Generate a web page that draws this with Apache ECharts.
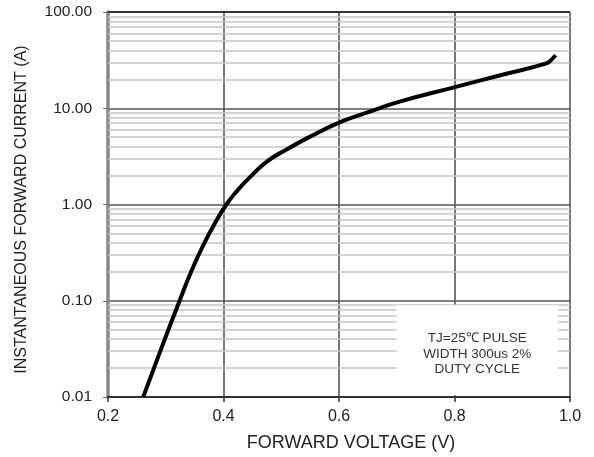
<!DOCTYPE html>
<html>
<head>
<meta charset="utf-8">
<script src="https://cdn.jsdelivr.net/npm/echarts@6/dist/echarts.min.js"></script>
<style>
html,body{margin:0;padding:0;background:#fff;}
#chart{width:594px;height:457px;}
</style>
</head>
<body>
<div id="chart"></div>
<script>
// Forward voltage (V) and instantaneous forward current (A)
var voltage = [0.261, 0.292, 0.324, 0.345, 0.365, 0.385, 0.405, 0.425, 0.441, 0.475, 0.510, 0.550, 0.600, 0.648, 0.705, 0.799, 0.878, 0.959, 0.968, 0.975];
var current = [0.010, 0.0316, 0.100, 0.207, 0.378, 0.637, 1.00, 1.42, 1.80, 2.79, 3.75, 5.07, 7.10, 9.00, 11.7, 16.5, 21.9, 29.2, 32.0, 35.6];
var xTicks = [0.2, 0.4, 0.6, 0.8, 1.0];
var yTicks = [0.01, 0.1, 1, 10, 100];
var minorMultipliers = [2, 3, 4, 5, 6, 7, 8, 9];
var noteText = ['TJ=25\u2103 PULSE', 'WIDTH 300us 2%', 'DUTY CYCLE'];
var noteBox = [[0.70, 0.0104], [0.979, 0.09]];

var minorLines = [];
for (var d = 0; d < yTicks.length - 1; d++) {
  for (var m = 0; m < minorMultipliers.length; m++) {
    minorLines.push({ yAxis: yTicks[d] * minorMultipliers[m] });
  }
}
var curveData = voltage.map(function (v, i) { return [v, current[i]]; });

var chart = echarts.init(document.getElementById('chart'));
var font = '"Liberation Sans", Arial, sans-serif';
chart.setOption({
  animation: false,
  backgroundColor: '#fff',
  grid: { left: 108, right: 24, top: 12, bottom: 59 },
  xAxis: {
    type: 'value', min: 0.2, max: 1.0, interval: 0.2,
    name: 'FORWARD VOLTAGE (V)', nameLocation: 'middle', nameGap: 37,
    nameTextStyle: { fontFamily: font, fontSize: 18, color: '#222', padding: [0, 0, 0, 24] },
    axisLine: { show: true, lineStyle: { color: '#333', width: 2 } },
    axisTick: { show: true, inside: false, length: 5, lineStyle: { color: '#333', width: 1.5 } },
    axisLabel: { fontFamily: font, fontSize: 16, color: '#222', margin: 12,
      formatter: function (v) { return v.toFixed(1); } },
    splitLine: { show: true, lineStyle: { color: '#555', width: 1.6 } }
  },
  yAxis: {
    type: 'log', logBase: 10, min: 0.01, max: 100,
    name: 'INSTANTANEOUS FORWARD CURRENT (A)', nameLocation: 'middle', nameGap: 78,
    nameTextStyle: { fontFamily: font, fontSize: 16, color: '#222', padding: [0, 10, 0, 0] },
    axisLine: { show: true, lineStyle: { color: '#888', width: 3.5 } },
    axisTick: { show: true, inside: false, length: 5, lineStyle: { color: '#666', width: 1 } },
    axisLabel: { fontFamily: font, fontSize: 15.5, color: '#222', margin: 16,
      formatter: function (v) { return v.toFixed(2); } },
    splitLine: { show: true, lineStyle: { color: '#555', width: 1.6 } }
  },
  series: [
    {
      type: 'line', data: [], z: 1, silent: true,
      markLine: {
        silent: true, symbol: 'none', animation: false, z: 1,
        label: { show: false },
        lineStyle: { color: '#c4c4c4', width: 1.6, type: 'solid' },
        data: minorLines
      }
    },
    {
      type: 'line', data: [], z: 2, silent: true,
      markArea: {
        silent: true, z: 10,
        itemStyle: { color: '#fff', opacity: 1 },
        label: {
          show: true, position: 'inside', fontFamily: font, fontSize: 13.5,
          lineHeight: 15.5, color: '#333', offset: [0, 4], formatter: noteText.join('\n')
        },
        data: [[{ coord: noteBox[0] }, { coord: noteBox[1] }]]
      }
    },
    {
      type: 'line', data: curveData, z: 5, smooth: 0.5,
      showSymbol: false, symbol: 'none',
      lineStyle: { color: '#000', width: 4 }
    }
  ],
  graphic: [
    {
      type: 'line', z: 100,
      shape: { x1: 108, y1: 12, x2: 570, y2: 12 },
      style: { stroke: '#333', lineWidth: 2 }
    }
  ]
});
</script>
</body>
</html>
